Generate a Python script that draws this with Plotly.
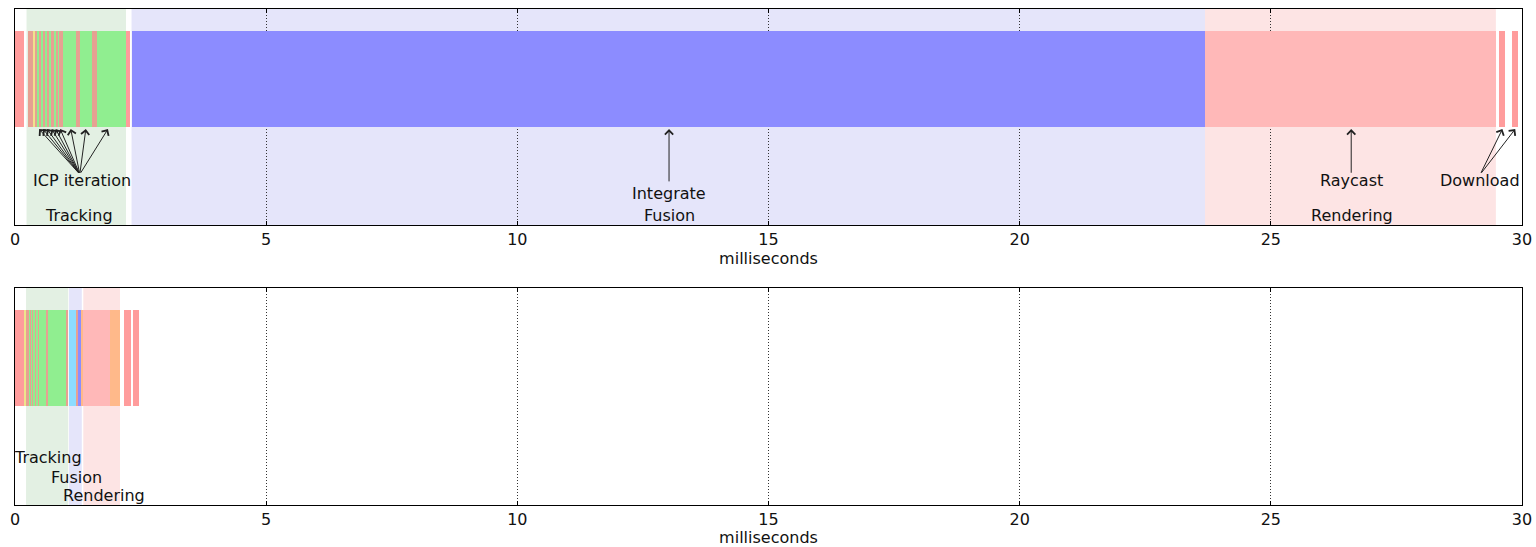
import plotly.graph_objects as go

# ---------------- data ----------------
# top panel: timeline segments (ms)
top_start = [0.00, 0.25, 0.36, 0.39, 0.44, 0.47, 0.52, 0.55, 0.60, 0.63, 0.69, 0.72, 0.78, 0.81, 0.86, 0.88,
             0.96, 1.21, 1.29, 1.54, 1.63, 2.20, 2.32, 23.69, 29.55, 29.80]
top_end = [0.18, 0.36, 0.39, 0.44, 0.47, 0.52, 0.55, 0.60, 0.63, 0.69, 0.72, 0.78, 0.81, 0.86, 0.88, 0.96,
           1.21, 1.29, 1.54, 1.63, 2.20, 2.29, 23.69, 29.48, 29.67, 29.93]
top_kind = ["transfer", "reduce", "pyramid", "reduce", "icp", "reduce", "icp", "reduce", "icp", "reduce",
            "icp", "reduce", "icp", "reduce", "icp", "reduce",
            "icp", "reduce", "icp", "reduce", "icp", "transfer", "integrate", "raycast", "transfer", "transfer"]

# bottom panel
bot_start = [0.00, 0.19, 0.22, 0.29, 0.30, 0.32, 0.35, 0.37, 0.40, 0.42, 0.46, 0.48, 0.63, 0.66, 1.03,
             1.07, 1.23, 1.26, 1.33, 1.36, 1.89, 2.17, 2.35]
bot_end = [0.18, 0.22, 0.29, 0.30, 0.32, 0.35, 0.37, 0.40, 0.42, 0.46, 0.48, 0.63, 0.66, 1.03, 1.06,
           1.23, 1.26, 1.33, 1.36, 1.89, 2.09, 2.30, 2.47]
bot_kind = ["transfer", "pyramid", "reduce", "icp", "reduce", "icp", "reduce", "icp", "reduce", "icp",
            "reduce", "icp", "reduce", "icp", "reduce",
            "prep", "reduce", "integrate", "shade", "raycast", "shade", "transfer", "transfer"]

# phase background spans
top_phase_name = ["Tracking", "Fusion", "Rendering"]
top_phase_start = [0.23, 2.32, 23.69]
top_phase_end = [2.21, 23.69, 29.48]
bot_phase_name = ["Tracking", "Fusion", "Rendering"]
bot_phase_start = [0.22, 1.075, 1.36]
bot_phase_end = [1.06, 1.33, 2.09]

x_ticks = [0, 5, 10, 15, 20, 25, 30]

# annotations: top
icp_heads = [0.48, 0.56, 0.64, 0.73, 0.81, 0.90, 1.11, 1.41, 1.85]
download_heads = [29.61, 29.865]

# ---------------- styles ----------------
kind_color = {
    "transfer": "#FF9C9C",
    "reduce": "#E6A192",
    "pyramid": "#EEE48C",
    "icp": "#90EE90",
    "integrate": "#8C8CFF",
    "raycast": "#FFB8B8",
    "prep": "#8CDCFF",
    "shade": "#FFB98A",
}
phase_color = {"Tracking": "#E3F0E3", "Fusion": "#E5E5FA", "Rendering": "#FDE4E4"}

BAR_Y = 0.676
BAR_W = 0.444
FONT = "DejaVu Sans"

fig = go.Figure()


def add_bars(starts, ends, kinds, xa, ya):
    fig.add_trace(go.Bar(
        orientation="h",
        y=[BAR_Y] * len(starts),
        base=starts,
        x=[e - s for s, e in zip(starts, ends)],
        width=BAR_W,
        marker=dict(color=[kind_color[k] for k in kinds], line=dict(width=0)),
        xaxis=xa, yaxis=ya, showlegend=False, hoverinfo="skip",
    ))


add_bars(top_start, top_end, top_kind, "x", "y")
add_bars(bot_start, bot_end, bot_kind, "x2", "y2")

shapes = []
for n, s, e in zip(top_phase_name, top_phase_start, top_phase_end):
    shapes.append(dict(type="rect", xref="x", yref="y", x0=s, x1=e, y0=0, y1=1,
                       fillcolor=phase_color[n], line=dict(width=0), layer="below"))
for n, s, e in zip(bot_phase_name, bot_phase_start, bot_phase_end):
    shapes.append(dict(type="rect", xref="x2", yref="y2", x0=s, x1=e, y0=0, y1=1,
                       fillcolor=phase_color[n], line=dict(width=0), layer="below"))

ann = []
tf = dict(family=FONT, size=16, color="#111111")


def text(x, y, t, xr="x", yr="y"):
    ann.append(dict(x=x, y=y, xref=xr, yref=yr, text=t, showarrow=False, font=tf,
                    xanchor="center", yanchor="middle"))


def arrow(hx, hy, tx, ty, xr="x", yr="y"):
    ann.append(dict(x=hx, y=hy, ax=tx, ay=ty, xref=xr, yref=yr, axref=xr, ayref=yr, text="",
                    showarrow=True, arrowhead=4, arrowsize=1.6, arrowwidth=1, arrowcolor="#222222",
                    standoff=0, startstandoff=0))


HEAD_Y = 0.444
for h in icp_heads:
    arrow(h, HEAD_Y, 1.29, 0.235)
arrow(13.02, HEAD_Y, 13.02, 0.195)
arrow(26.6, HEAD_Y, 26.6, 0.235)
for h in download_heads:
    arrow(h, HEAD_Y, 29.17, 0.235)

text(1.33, 0.204, "ICP iteration")
text(1.27, 0.046, "Tracking")
text(13.02, 0.148, "Integrate")
text(13.02, 0.046, "Fusion")
text(26.6, 0.204, "Raycast")
text(26.62, 0.046, "Rendering")
text(29.17, 0.204, "Download")

text(0.66, 0.217, "Tracking", "x2", "y2")
text(1.23, 0.129, "Fusion", "x2", "y2")
text(1.77, 0.046, "Rendering", "x2", "y2")

xcommon = dict(range=[0, 30], tickvals=x_ticks, ticktext=[str(v) for v in x_ticks],
               showgrid=True, griddash="1px,2px", gridcolor="#333333", gridwidth=1,
               zeroline=False, showline=True, linecolor="black", linewidth=1, mirror="ticks",
               ticks="inside", ticklen=4, tickcolor="black",
               tickfont=dict(family=FONT, size=16, color="#111111"),
               title=dict(text="milliseconds", font=dict(family=FONT, size=16, color="#111111"), standoff=4),
               automargin=False)
ycommon = dict(range=[0, 1], showgrid=False, zeroline=False, showticklabels=False, ticks="",
               showline=True, linecolor="black", linewidth=1, mirror=True, fixedrange=True)

fig.update_layout(
    width=1536, height=547,
    margin=dict(l=15, r=14, t=9, b=42),
    paper_bgcolor="white", plot_bgcolor="white",
    barmode="overlay", bargap=0,
    xaxis=dict(**xcommon, anchor="y"),
    yaxis=dict(**ycommon, domain=[0.5645, 1.0], anchor="x"),
    xaxis2=dict(**xcommon, anchor="y2"),
    yaxis2=dict(**ycommon, domain=[0.0, 0.4375], anchor="x2"),
    shapes=shapes, annotations=ann,
    font=dict(family=FONT, size=16, color="#111111"),
)

fig.write_html("out.html")
